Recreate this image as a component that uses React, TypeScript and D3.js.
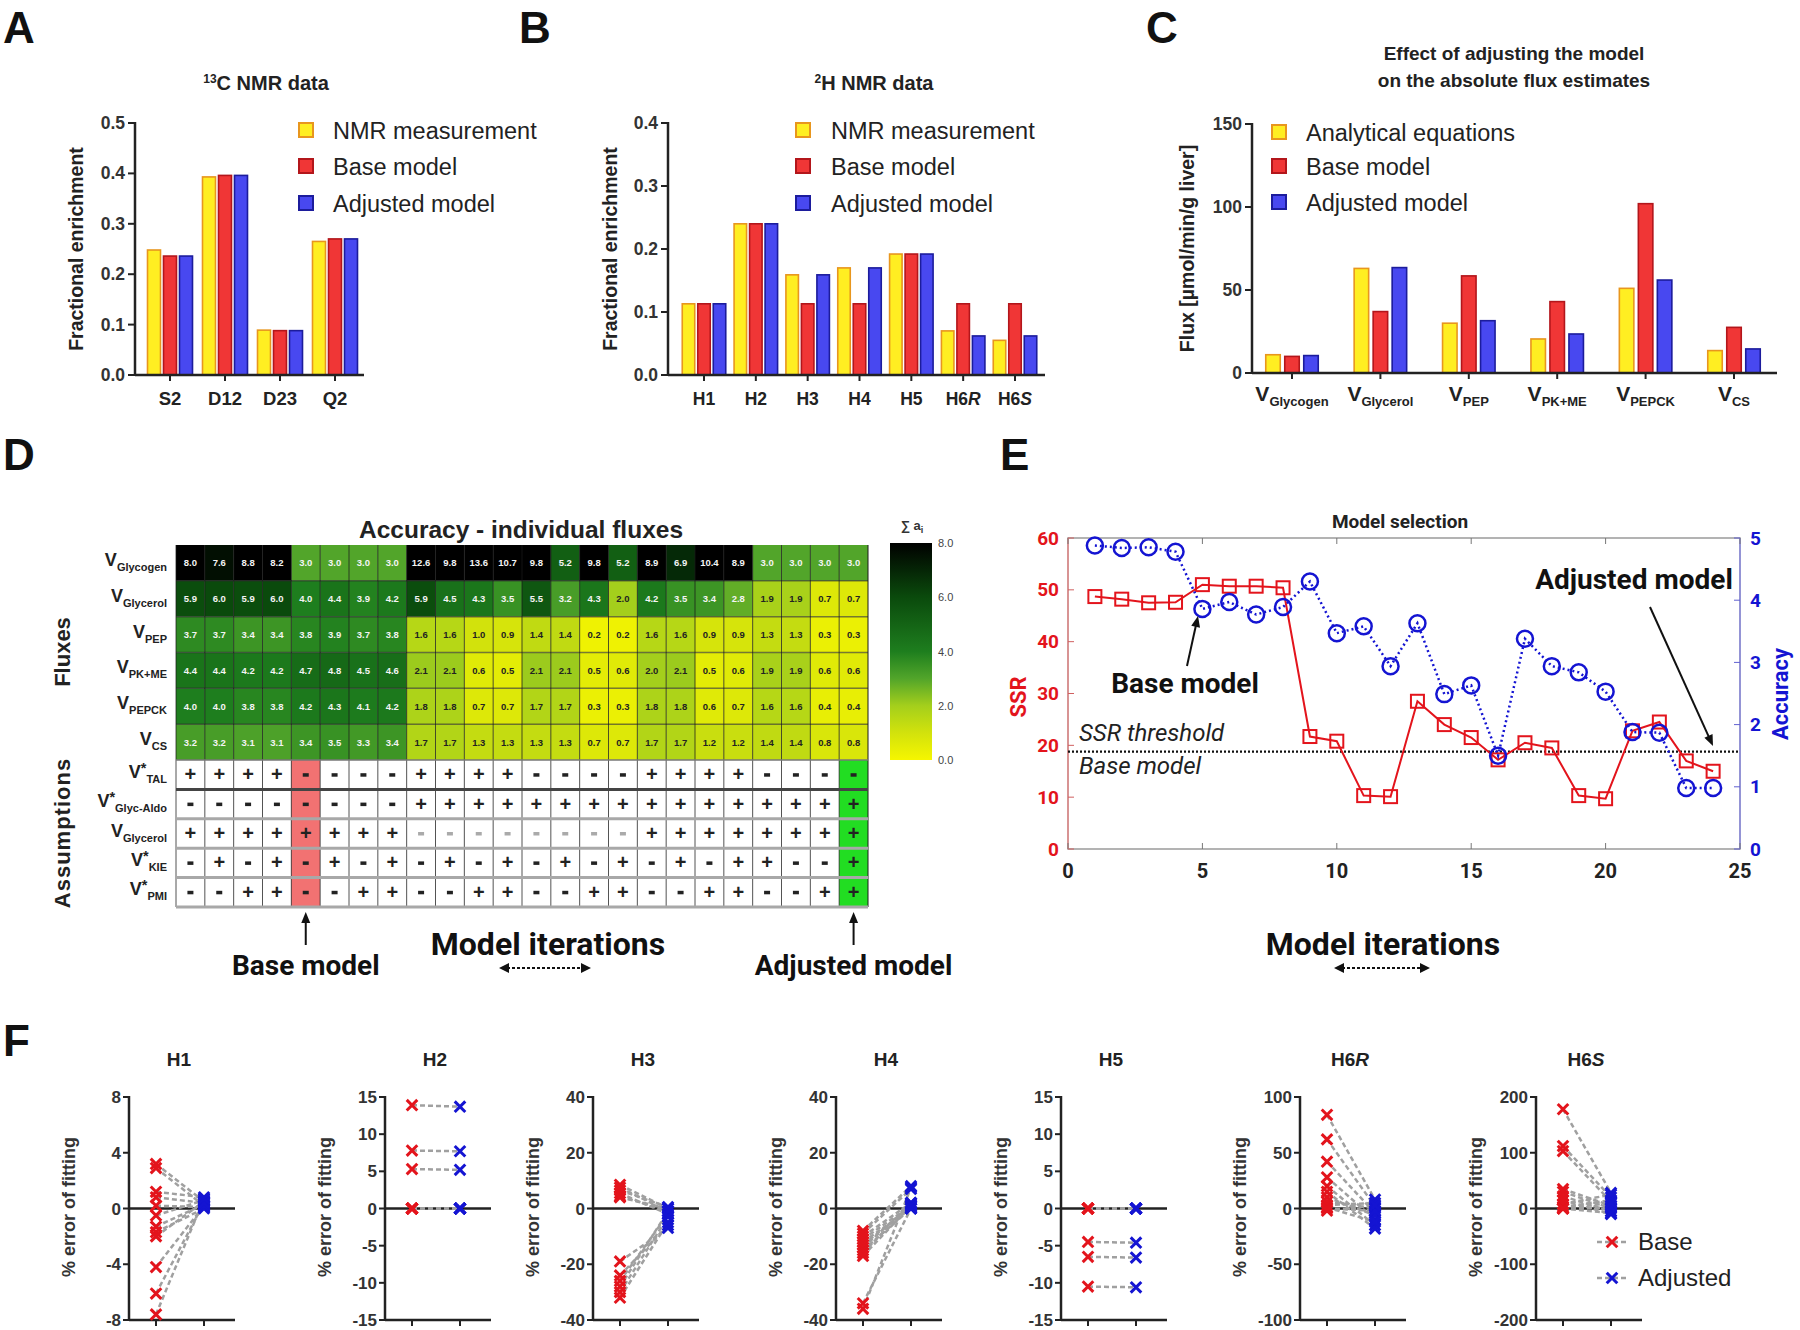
import React from "react";
import * as d3 from "d3";

const FONT = "'Liberation Sans', Arial, sans-serif";
const NARROW = "'Liberation Sans Narrow', 'Arial Narrow', Roboto, sans-serif";

// A: 13C NMR data
const carbonCats = ["S2", "D12", "D23", "Q2"];
const carbonNmr = [0.248, 0.393, 0.089, 0.265];
const carbonBase = [0.236, 0.396, 0.088, 0.27];
const carbonAdj = [0.236, 0.396, 0.088, 0.27];

// B: 2H NMR data
const hydroCats = ["H1", "H2", "H3", "H4", "H5", "H6R", "H6S"];
const hydroNmr = [0.113, 0.24, 0.159, 0.17, 0.192, 0.07, 0.055];
const hydroBase = [0.113, 0.24, 0.113, 0.113, 0.192, 0.113, 0.113];
const hydroAdj = [0.113, 0.24, 0.159, 0.17, 0.192, 0.062, 0.062];

// C: absolute flux estimates
const fluxCats = ["Glycogen", "Glycerol", "PEP", "PK+ME", "PEPCK", "CS"];
const fluxAnalytical = [11, 63, 30, 20.5, 51, 13.5];
const fluxBase = [10, 37, 58.5, 43, 102, 27.5];
const fluxAdj = [10.5, 63.5, 31.5, 23.5, 56, 14.5];

// D: accuracy heatmap, one array per flux (24 model iterations)
const accGlycogen = [8.0, 7.6, 8.8, 8.2, 3.0, 3.0, 3.0, 3.0, 12.6, 9.8, 13.6, 10.7, 9.8, 5.2, 9.8, 5.2, 8.9, 6.9, 10.4, 8.9, 3.0, 3.0, 3.0, 3.0];
const accGlycerol = [5.9, 6.0, 5.9, 6.0, 4.0, 4.4, 3.9, 4.2, 5.9, 4.5, 4.3, 3.5, 5.5, 3.2, 4.3, 2.0, 4.2, 3.5, 3.4, 2.8, 1.9, 1.9, 0.7, 0.7];
const accPEP = [3.7, 3.7, 3.4, 3.4, 3.8, 3.9, 3.7, 3.8, 1.6, 1.6, 1.0, 0.9, 1.4, 1.4, 0.2, 0.2, 1.6, 1.6, 0.9, 0.9, 1.3, 1.3, 0.3, 0.3];
const accPKME = [4.4, 4.4, 4.2, 4.2, 4.7, 4.8, 4.5, 4.6, 2.1, 2.1, 0.6, 0.5, 2.1, 2.1, 0.5, 0.6, 2.0, 2.1, 0.5, 0.6, 1.9, 1.9, 0.6, 0.6];
const accPEPCK = [4.0, 4.0, 3.8, 3.8, 4.2, 4.3, 4.1, 4.2, 1.8, 1.8, 0.7, 0.7, 1.7, 1.7, 0.3, 0.3, 1.8, 1.8, 0.6, 0.7, 1.6, 1.6, 0.4, 0.4];
const accCS = [3.2, 3.2, 3.1, 3.1, 3.4, 3.5, 3.3, 3.4, 1.7, 1.7, 1.3, 1.3, 1.3, 1.3, 0.7, 0.7, 1.7, 1.7, 1.2, 1.2, 1.4, 1.4, 0.8, 0.8];
const heatRows = [
  { sub: "Glycogen", vals: accGlycogen },
  { sub: "Glycerol", vals: accGlycerol },
  { sub: "PEP", vals: accPEP },
  { sub: "PK+ME", vals: accPKME },
  { sub: "PEPCK", vals: accPEPCK },
  { sub: "CS", vals: accCS },
];
const asmTAL = "++++----++++----++++----";
const asmGlycAldo = "--------++++++++++++++++";
const asmGlycerol = "++++++++--------++++++++";
const asmKIE = "-+-+-+-+-+-+-+-+-+-++--+";
const asmPMI = "--++--++--++--++--++--++";
const asmRows = [
  { sub: "TAL", star: true, flags: asmTAL },
  { sub: "Glyc-Aldo", star: true, flags: asmGlycAldo },
  { sub: "Glycerol", star: false, flags: asmGlycerol },
  { sub: "KIE", star: true, flags: asmKIE },
  { sub: "PMI", star: true, flags: asmPMI },
];
const colorTicks = [0, 2, 4, 6, 8];

// E: model selection
const iterations = d3.range(1, 25);
const ssrValues = [48.7, 48.2, 47.5, 47.6, 51.0, 50.7, 50.7, 50.4, 21.7, 20.8, 10.3, 10.1, 28.5, 24.0, 21.5, 17.2, 20.5, 19.5, 10.3, 9.7, 22.8, 24.5, 17.0, 15.0];
const accValues = [4.88, 4.84, 4.85, 4.78, 3.86, 3.97, 3.77, 3.89, 4.3, 3.47, 3.58, 2.94, 3.63, 2.49, 2.63, 1.5, 3.38, 2.94, 2.84, 2.53, 1.88, 1.87, 0.98, 0.98];
const ssrThreshold = 18.8;

// F: % error of fitting, base vs adjusted
const errH1Base = [3.2, 2.9, 1.2, 0.8, 0.2, -0.5, -1.3, -1.7, -2.0, -4.2, -6.1, -7.6];
const errH1Adj = [0.5, 0.2, 0.8, 0.4, 0.1, 0.6, 0.3, 0.0, 0.5, 0.2, 0.4, 0.7];
const errH2Base = [13.9, 7.8, 5.3, 0, 0, 0, 0, 0, 0, 0, 0, 0];
const errH2Adj = [13.7, 7.7, 5.2, 0, 0, 0, 0, 0, 0, 0, 0, 0];
const errH3Base = [8.5, 7.5, 6.5, 5.5, 4.5, 4.0, -19, -24, -26, -28, -30, -32];
const errH3Adj = [0, -1, 0.5, -2, -1, 0, -7, -6, -2, -1, -3, -5];
const errH4Base = [-8, -9, -10, -11, -12, -13, -14, -15, -16, -17, -34, -36];
const errH4Adj = [8, 7, 2, 1, 0, 0.5, 1.5, 0, 2, 1, 0, 7.5];
const errH5Base = [0, 0, 0, 0, 0, 0, 0, 0, 0, -4.5, -6.5, -10.5];
const errH5Adj = [0, 0, 0, 0, 0, 0, 0, 0, 0, -4.6, -6.6, -10.6];
const errH6RBase = [84, 62, 42, 28, 20, 15, 10, 6, 3, 1, 0, -2];
const errH6RAdj = [8, 2, -4, -10, -15, -18, -6, 0, 5, -12, -2, 3];
const errH6SBase = [178, 112, 103, 35, 30, 22, 15, 8, 3, 0, 0, 0];
const errH6SAdj = [28, 20, 12, 5, 0, -5, -10, 25, 15, 2, -8, 10];
const errPanels = [
  { name: "H1", base: errH1Base, adj: errH1Adj, lim: 8, step: 4 },
  { name: "H2", base: errH2Base, adj: errH2Adj, lim: 15, step: 5 },
  { name: "H3", base: errH3Base, adj: errH3Adj, lim: 40, step: 20 },
  { name: "H4", base: errH4Base, adj: errH4Adj, lim: 40, step: 20 },
  { name: "H5", base: errH5Base, adj: errH5Adj, lim: 15, step: 5 },
  { name: "H6R", base: errH6RBase, adj: errH6RAdj, lim: 100, step: 50 },
  { name: "H6S", base: errH6SBase, adj: errH6SAdj, lim: 200, step: 100 },
];
// left edge (y axis) of each small F plot
const errAxisX = [129, 385, 593, 836, 1061, 1300, 1536];

const SERIES = [
  { fill: "#ffee22", stroke: "#e8961e" },
  { fill: "#f03636", stroke: "#b3161b" },
  { fill: "#4848f0", stroke: "#1c1c9c" },
];
const RED = "#e3141c";
const BLUE = "#1414d2";

const heatColor = d3
  .scaleLinear<string>()
  .domain([0, 1, 2, 3, 4, 6, 8])
  .range(["#f6f600", "#d2e20c", "#a4cf1c", "#52a52a", "#1e7e1e", "#0a4a0c", "#000000"])
  .clamp(true);

// label with "H6R" style italic suffix
function hLabel(c: string) {
  if (c.startsWith("H6")) {
    return (
      <>
        H6<tspan fontStyle="italic">{c.slice(2)}</tspan>
      </>
    );
  }
  return c;
}

function BarPanel(p: any) {
  const y = d3.scaleLinear().domain([0, p.max]).range([p.yBot, p.yTop]);
  const xc = d3.scalePoint<string>().domain(p.cats).range([p.c0, p.c1]);
  const off = d3.scaleLinear().domain([0, 2]).range([-(p.bw + p.gap), p.bw + p.gap]);
  return (
    <g>
      {p.series.map((vals: number[], s: number) =>
        vals.map((v, i) => (
          <rect
            key={s + "-" + i}
            x={(xc(p.cats[i]) as number) + off(s) - p.bw / 2}
            y={y(v)}
            width={p.bw}
            height={p.yBot - y(v)}
            fill={SERIES[s].fill}
            stroke={SERIES[s].stroke}
            strokeWidth={1.6}
          />
        ))
      )}
      <line x1={p.x0} x2={p.x0} y1={p.yTop - 1} y2={p.yBot} stroke="#222" strokeWidth={2.5} />
      <line x1={p.x0} x2={p.x1} y1={p.yBot} y2={p.yBot} stroke="#222" strokeWidth={2.5} />
      {p.ticks.map((t: number) => (
        <g key={t}>
          <line x1={p.x0 - 7} x2={p.x0} y1={y(t)} y2={y(t)} stroke="#222" strokeWidth={2} />
          <text x={p.x0 - 10} y={y(t) + 6} textAnchor="end" fontSize={17.5} fontWeight="bold" fill="#333">
            {p.fmt(t)}
          </text>
        </g>
      ))}
      {p.cats.map((c: string) => (
        <line key={c} x1={xc(c)} x2={xc(c)} y1={p.yBot} y2={p.yBot + 6} stroke="#222" strokeWidth={2} />
      ))}
      {p.cats.map((c: string) => (
        <g key={"l" + c}>{p.renderCat(c, xc(c) as number)}</g>
      ))}
      <text
        transform={`translate(${p.yLabelX},${(p.yTop + p.yBot) / 2}) rotate(-90)`}
        textAnchor="middle"
        fontSize={19.5}
        fontWeight="bold"
        fill="#222"
      >
        {p.yLabel}
      </text>
    </g>
  );
}

function Legend({ x, tx, ys, labels, size }: any) {
  return (
    <g>
      {labels.map((l: string, i: number) => (
        <g key={l}>
          <rect x={x - 7} y={ys[i] - 7} width={14} height={14} fill={SERIES[i].fill} stroke={SERIES[i].stroke} strokeWidth={2} />
          <text x={tx} y={ys[i] + 8.5} fontSize={size} fill="#222">
            {l}
          </text>
        </g>
      ))}
    </g>
  );
}

function ArrowLine({ x1, y1, x2, y2, w = 2 }: any) {
  const a = Math.atan2(y2 - y1, x2 - x1);
  const L = 11, s = 4.5;
  const p1 = [x2 - L * Math.cos(a) + s * Math.sin(a), y2 - L * Math.sin(a) - s * Math.cos(a)];
  const p2 = [x2 - L * Math.cos(a) - s * Math.sin(a), y2 - L * Math.sin(a) + s * Math.cos(a)];
  return (
    <g>
      <line x1={x1} y1={y1} x2={x2 - (L - 2) * Math.cos(a)} y2={y2 - (L - 2) * Math.sin(a)} stroke="#111" strokeWidth={w} />
      <polygon points={`${x2},${y2} ${p1[0]},${p1[1]} ${p2[0]},${p2[1]}`} fill="#111" />
    </g>
  );
}

function DoubleArrow({ x1, x2, y }: any) {
  return (
    <g>
      <line x1={x1 + 8} x2={x2 - 8} y1={y} y2={y} stroke="#111" strokeWidth={2} strokeDasharray="3,2" />
      <polygon points={`${x1},${y} ${x1 + 10},${y - 5} ${x1 + 10},${y + 5}`} fill="#111" />
      <polygon points={`${x2},${y} ${x2 - 10},${y - 5} ${x2 - 10},${y + 5}`} fill="#111" />
    </g>
  );
}

function VLabel({ x, y, sub, star, anchor = "end", size = 18, subSize = 11, weight = "bold" }: any) {
  return (
    <text x={x} y={y} textAnchor={anchor} fontSize={size} fontWeight={weight} fill="#222">
      V
      {star ? (
        <tspan fontSize={size * 0.8} dy={-5}>
          *
        </tspan>
      ) : null}
      <tspan fontSize={subSize} dy={star ? 10 : 5}>
        {sub}
      </tspan>
    </text>
  );
}

function Heatmap() {
  const cols = d3.range(24);
  const x = d3.scaleBand<number>().domain(cols).range([176, 868]);
  const yF = d3.scaleBand<number>().domain(d3.range(heatRows.length)).range([545, 760]);
  const yA = d3.scaleBand<number>().domain(d3.range(asmRows.length)).range([760, 907]);
  const cw = x.bandwidth();
  const cb = d3.scaleLinear().domain([0, 8]).range([760, 543]);
  return (
    <g>
      <text x={521} y={538} textAnchor="middle" fontSize={24.5} fontWeight="bold" fill="#222">
        Accuracy - individual fluxes
      </text>
      {heatRows.map((r, ri) =>
        r.vals.map((v, ci) => (
          <g key={ri + "-" + ci}>
            <rect x={x(ci)} y={yF(ri)} width={cw} height={yF.bandwidth()} fill={heatColor(v)} />
            <text
              x={(x(ci) as number) + cw / 2}
              y={(yF(ri) as number) + yF.bandwidth() / 2 + 3.5}
              textAnchor="middle"
              fontSize={9.5}
              fontWeight="bold"
              fill={v >= 2.5 ? "#f4f4f4" : "#222"}
            >
              {v.toFixed(1)}
            </text>
          </g>
        ))
      )}
      {heatRows.map((r, ri) => (
        <VLabel key={r.sub} x={167} y={(yF(ri) as number) + yF.bandwidth() / 2 + 3} sub={r.sub} />
      ))}
      {d3.range(1, heatRows.length).map((ri) => (
        <line key={ri} x1={176} x2={868} y1={yF(ri)} y2={yF(ri)} stroke="#2a2a2a" strokeWidth={1.5} opacity={0.6} />
      ))}
      {asmRows.map((r, ri) =>
        cols.map((ci) => {
          const f = r.flags[ci];
          const cx = (x(ci) as number) + cw / 2;
          const cy = (yA(ri) as number) + yA.bandwidth() / 2;
          const fill = ci === 4 ? "#f27272" : ci === 23 ? "#22dd22" : "#ffffff";
          return (
            <g key={"a" + ri + "-" + ci}>
              <rect x={x(ci)} y={yA(ri)} width={cw} height={yA.bandwidth()} fill={fill} />
              {f === "+" ? (
                <text x={cx} y={cy + 6.5} textAnchor="middle" fontSize={20} fontWeight="bold" fill="#222">
                  +
                </text>
              ) : (
                <rect x={cx - 3} y={cy - 1.5} width={6} height={3.5} fill={r.sub === "Glycerol" ? "#aaaaaa" : "#222"} />
              )}
            </g>
          );
        })
      )}
      {asmRows.map((r, ri) => (
        <VLabel key={r.sub} x={167} y={(yA(ri) as number) + yA.bandwidth() / 2 + 3} sub={r.sub} star={r.star} />
      ))}
      {cols.map((ci) => (
        <line key={"v" + ci} x1={x(ci)} x2={x(ci)} y1={545} y2={907} stroke="#1a1a1a" strokeWidth={1} opacity={0.75} />
      ))}
      <line x1={868} x2={868} y1={545} y2={907} stroke="#1a1a1a" strokeWidth={1} />
      {d3.range(1, asmRows.length + 1).map((ri) => (
        <line
          key={"h" + ri}
          x1={176}
          x2={868}
          y1={ri < asmRows.length ? yA(ri) : 907}
          y2={ri < asmRows.length ? yA(ri) : 907}
          stroke={ri === 1 ? "#444" : "#a8a8a8"}
          strokeWidth={3}
        />
      ))}
      <line x1={176} x2={868} y1={760} y2={760} stroke="#777" strokeWidth={1.5} />
      <text transform="translate(70,652) rotate(-90)" textAnchor="middle" fontSize={22} fontWeight="bold" fill="#222">
        Fluxes
      </text>
      <text
        transform="translate(70,833) rotate(-90)"
        textAnchor="middle"
        fontSize={22}
        fontWeight="bold"
        fill="#222"
        letterSpacing={1}
      >
        Assumptions
      </text>
      <defs>
        <linearGradient id="cbar" x1="0" x2="0" y1="1" y2="0">
          {d3.range(0, 8.01, 0.5).map((v) => (
            <stop key={v} offset={v / 8} stopColor={heatColor(v)} />
          ))}
        </linearGradient>
      </defs>
      <rect x={890} y={543} width={42} height={217} fill="url(#cbar)" />
      {colorTicks.map((t) => (
        <text key={t} x={938} y={cb(t) + 4} fontSize={11} fill="#444">
          {t.toFixed(1)}
        </text>
      ))}
      <text x={912} y={530} textAnchor="middle" fontSize={13} fontWeight="bold" fill="#333">
        ∑ a<tspan fontSize={9} dy={3}>i</tspan>
      </text>
      <ArrowLine x1={(x(4) as number) + cw / 2} y1={945} x2={(x(4) as number) + cw / 2} y2={912} />
      <ArrowLine x1={(x(23) as number) + cw / 2} y1={945} x2={(x(23) as number) + cw / 2} y2={912} />
      <g fontFamily={NARROW} fontWeight="bold" fill="#111" textAnchor="middle">
        <text x={(x(4) as number) + cw / 2} y={975} fontSize={28}>
          Base model
        </text>
        <text x={548} y={955} fontSize={32}>
          Model iterations
        </text>
        <text x={(x(23) as number) + cw / 2} y={975} fontSize={28}>
          Adjusted model
        </text>
      </g>
      <DoubleArrow x1={499} x2={591} y={968} />
    </g>
  );
}

function ModelSelection() {
  const x = d3.scaleLinear().domain([0, 25]).range([1068, 1740]);
  const yS = d3.scaleLinear().domain([0, 60]).range([849, 538]);
  const yA = d3.scaleLinear().domain([0, 5]).range([849, 538]);
  const ssrLine = d3
    .line<number>()
    .x((_, i) => x(iterations[i]))
    .y((d) => yS(d));
  const accLine = d3
    .line<number>()
    .x((_, i) => x(iterations[i]))
    .y((d) => yA(d));
  return (
    <g fontFamily={NARROW}>
      <text x={1400} y={528} textAnchor="middle" fontSize={19} fontWeight="bold" fill="#222">
        Model selection
      </text>
      <rect x={1068} y={538} width={672} height={311} fill="none" stroke="#9a9a9a" strokeWidth={1.5} />
      <line x1={1068} x2={1068} y1={538} y2={849} stroke="#e58a8a" strokeWidth={1.5} />
      <line x1={1740} x2={1740} y1={538} y2={849} stroke="#8a8ae0" strokeWidth={1.5} />
      {x.ticks(5).map((t) => (
        <g key={t}>
          <line x1={x(t)} x2={x(t)} y1={849} y2={843} stroke="#777" />
          <line x1={x(t)} x2={x(t)} y1={538} y2={544} stroke="#777" />
          <text x={x(t)} y={878} textAnchor="middle" fontSize={20} fontWeight="bold" fill="#222">
            {t}
          </text>
        </g>
      ))}
      {yS.ticks(6).map((t) => (
        <g key={t}>
          <line x1={1068} x2={1074} y1={yS(t)} y2={yS(t)} stroke="#d06060" />
          <text x={1059} y={yS(t) + 6.5} textAnchor="end" fontSize={19} fontWeight="bold" fill={RED}>
            {t}
          </text>
        </g>
      ))}
      {yA.ticks(5).map((t) => (
        <g key={t}>
          <line x1={1734} x2={1740} y1={yA(t)} y2={yA(t)} stroke="#6060d0" />
          <text x={1750} y={yA(t) + 6.5} fontSize={19} fontWeight="bold" fill={BLUE}>
            {t}
          </text>
        </g>
      ))}
      <text transform="translate(1026,697) rotate(-90)" textAnchor="middle" fontSize={22} fontWeight="bold" fill={RED}>
        SSR
      </text>
      <text transform="translate(1788,694) rotate(-90)" textAnchor="middle" fontSize={22} fontWeight="bold" fill={BLUE}>
        Accuracy
      </text>
      <line x1={1068} x2={1740} y1={yS(ssrThreshold)} y2={yS(ssrThreshold)} stroke="#111" strokeWidth={2.2} strokeDasharray="2,2" />
      <text x={1079} y={741} fontSize={24} fontStyle="italic" fill="#222">
        SSR threshold
      </text>
      <text x={1079} y={774} fontSize={24} fontStyle="italic" fill="#222">
        Base model
      </text>
      <path d={ssrLine(ssrValues) as string} fill="none" stroke={RED} strokeWidth={2} />
      {ssrValues.map((v, i) => (
        <rect key={"s" + i} x={x(iterations[i]) - 6.5} y={yS(v) - 6.5} width={13} height={13} fill="none" stroke={RED} strokeWidth={2} />
      ))}
      <path d={accLine(accValues) as string} fill="none" stroke={BLUE} strokeWidth={2.5} strokeDasharray="2,3" />
      {accValues.map((v, i) => (
        <circle key={"c" + i} cx={x(iterations[i])} cy={yA(v)} r={8} fill="none" stroke={BLUE} strokeWidth={2.5} />
      ))}
      <text x={1185} y={693} textAnchor="middle" fontSize={28} fontWeight="bold" fill="#111">
        Base model
      </text>
      <ArrowLine x1={1187} y1={666} x2={1198} y2={616} />
      <text x={1634} y={589} textAnchor="middle" fontSize={28} fontWeight="bold" fill="#111">
        Adjusted model
      </text>
      <ArrowLine x1={1650} y1={607} x2={1713} y2={746} />
      <text x={1383} y={955} textAnchor="middle" fontSize={32} fontWeight="bold" fill="#111">
        Model iterations
      </text>
      <DoubleArrow x1={1334} x2={1430} y={968} />
    </g>
  );
}

const xMark = d3.symbol().type(d3.symbolX).size(75);

function ErrPanel({ panel, ax }: any) {
  const xb = ax + 27;
  const xa = ax + 75;
  const cx = ax + 50;
  const y = d3.scaleLinear().domain([-panel.lim, panel.lim]).range([1320, 1097]);
  const ticks = d3.range(-panel.lim, panel.lim + 0.001, panel.step);
  return (
    <g>
      <text x={cx} y={1066} textAnchor="middle" fontSize={19} fontWeight="bold" fill="#222">
        {hLabel(panel.name)}
      </text>
      <line x1={ax} x2={ax} y1={1096} y2={1320} stroke="#222" strokeWidth={2.5} />
      <line x1={ax} x2={ax + 106} y1={1320} y2={1320} stroke="#222" strokeWidth={2.5} />
      <line x1={ax} x2={ax + 106} y1={y(0)} y2={y(0)} stroke="#222" strokeWidth={2.5} />
      {[xb, xa].map((t) => (
        <line key={t} x1={t} x2={t} y1={1320} y2={1326} stroke="#222" strokeWidth={2} />
      ))}
      {ticks.map((t: number) => (
        <g key={t}>
          <line x1={ax - 6} x2={ax} y1={y(t)} y2={y(t)} stroke="#222" strokeWidth={2} />
          <text x={ax - 8} y={y(t) + 6} textAnchor="end" fontSize={17} fontWeight="bold" fill="#333">
            {t}
          </text>
        </g>
      ))}
      <text
        transform={`translate(${ax - 54},1207) rotate(-90)`}
        textAnchor="middle"
        fontSize={18}
        fontWeight="bold"
        fill="#333"
      >
        % error of fitting
      </text>
      {panel.base.map((b: number, i: number) => (
        <line
          key={"l" + i}
          x1={xb}
          y1={y(b)}
          x2={xa}
          y2={y(panel.adj[i])}
          stroke="#a0a0a0"
          strokeWidth={2.5}
          strokeDasharray="5,3"
        />
      ))}
      {panel.base.map((b: number, i: number) => (
        <path key={"b" + i} d={xMark() as string} transform={`translate(${xb},${y(b)})`} stroke={RED} strokeWidth={3} fill="none" />
      ))}
      {panel.adj.map((a: number, i: number) => (
        <path key={"a" + i} d={xMark() as string} transform={`translate(${xa},${y(a)})`} stroke={BLUE} strokeWidth={3} fill="none" />
      ))}
    </g>
  );
}

export default function App() {
  return (
    <svg
      width={1800}
      height={1330}
      style={{ position: "absolute", left: 0, top: 0, background: "#fff" }}
      fontFamily={FONT}
    >
      <rect width={1800} height={1330} fill="#fff" />
      {/* panel letters */}
      <g fontSize={44} fontWeight="bold" fill="#111">
        <text x={3} y={43}>A</text>
        <text x={519} y={43}>B</text>
        <text x={1146} y={43}>C</text>
        <text x={3} y={470}>D</text>
        <text x={1000} y={470}>E</text>
        <text x={3} y={1056}>F</text>
      </g>

      {/* A */}
      <text x={266} y={90} textAnchor="middle" fontSize={20} fontWeight="bold" fill="#222">
        <tspan fontSize={12} dy={-7}>13</tspan>
        <tspan dy={7}>C NMR data</tspan>
      </text>
      <BarPanel
        cats={carbonCats}
        series={[carbonNmr, carbonBase, carbonAdj]}
        x0={135}
        x1={364}
        yTop={123}
        yBot={375}
        max={0.5}
        ticks={[0, 0.1, 0.2, 0.3, 0.4, 0.5]}
        fmt={(v: number) => v.toFixed(1)}
        c0={170}
        c1={335}
        bw={13}
        gap={3}
        yLabel="Fractional enrichment"
        yLabelX={83}
        renderCat={(c: string, cx: number) => (
          <text x={cx} y={405} textAnchor="middle" fontSize={18.5} fontWeight="bold" fill="#222">
            {c}
          </text>
        )}
      />
      <Legend x={306} tx={333} ys={[130, 166, 203]} size={23.5} labels={["NMR measurement", "Base model", "Adjusted model"]} />

      {/* B */}
      <text x={874} y={90} textAnchor="middle" fontSize={20} fontWeight="bold" fill="#222">
        <tspan fontSize={12} dy={-7}>2</tspan>
        <tspan dy={7}>H NMR data</tspan>
      </text>
      <BarPanel
        cats={hydroCats}
        series={[hydroNmr, hydroBase, hydroAdj]}
        x0={668}
        x1={1045}
        yTop={123}
        yBot={375}
        max={0.4}
        ticks={[0, 0.1, 0.2, 0.3, 0.4]}
        fmt={(v: number) => v.toFixed(1)}
        c0={704}
        c1={1015}
        bw={12.5}
        gap={3}
        yLabel="Fractional enrichment"
        yLabelX={617}
        renderCat={(c: string, cx: number) => (
          <text x={cx} y={405} textAnchor="middle" fontSize={17.5} fontWeight="bold" fill="#222">
            {hLabel(c)}
          </text>
        )}
      />
      <Legend x={803} tx={831} ys={[130, 166, 203]} size={23.5} labels={["NMR measurement", "Base model", "Adjusted model"]} />

      {/* C */}
      <text x={1514} y={60} textAnchor="middle" fontSize={19} fontWeight="bold" fill="#222">
        Effect of adjusting the model
      </text>
      <text x={1514} y={87} textAnchor="middle" fontSize={19} fontWeight="bold" fill="#222">
        on the absolute flux estimates
      </text>
      <BarPanel
        cats={fluxCats}
        series={[fluxAnalytical, fluxBase, fluxAdj]}
        x0={1252}
        x1={1777}
        yTop={124}
        yBot={373}
        max={150}
        ticks={[0, 50, 100, 150]}
        fmt={(v: number) => String(v)}
        c0={1292}
        c1={1734}
        bw={14.5}
        gap={4.5}
        yLabel="Flux [µmol/min/g liver]"
        yLabelX={1194}
        renderCat={(c: string, cx: number) => (
          <VLabel x={cx} y={401} sub={c} anchor="middle" size={21} subSize={13} />
        )}
      />
      <Legend x={1279} tx={1306} ys={[132, 166, 202]} size={23.5} labels={["Analytical equations", "Base model", "Adjusted model"]} />

      {/* D */}
      <Heatmap />

      {/* E */}
      <ModelSelection />

      {/* F */}
      {errPanels.map((p, i) => (
        <ErrPanel key={p.name} panel={p} ax={errAxisX[i]} />
      ))}
      <g>
        <line x1={1597} x2={1628} y1={1242} y2={1242} stroke="#a0a0a0" strokeWidth={2.5} strokeDasharray="5,3" />
        <path d={xMark() as string} transform="translate(1612,1242)" stroke={RED} strokeWidth={3} fill="none" />
        <text x={1638} y={1250} fontSize={24} fill="#222">Base</text>
        <line x1={1597} x2={1628} y1={1278} y2={1278} stroke="#a0a0a0" strokeWidth={2.5} strokeDasharray="5,3" />
        <path d={xMark() as string} transform="translate(1612,1278)" stroke={BLUE} strokeWidth={3} fill="none" />
        <text x={1638} y={1286} fontSize={24} fill="#222">Adjusted</text>
      </g>
    </svg>
  );
}
